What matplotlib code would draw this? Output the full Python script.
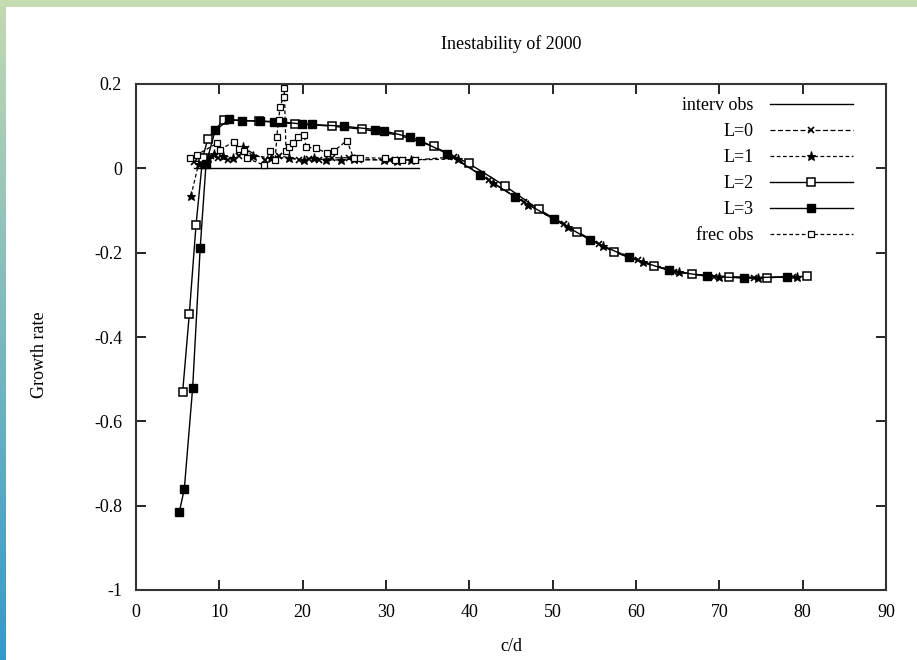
import numpy as np
import matplotlib.pyplot as plt
from matplotlib.colors import LinearSegmentedColormap

plt.rcParams['font.family'] = ['Liberation Serif', 'DejaVu Serif']
plt.rcParams['axes.unicode_minus'] = False

# intervalo observado (linea en y=0)
interv_x = [7.0, 34.0]
interv_y = [0.0, 0.0]

# L=0
l0_x = [7.0, 8.2, 9.0, 9.8, 11.0, 12.3, 13.2, 15.5, 17.2, 19.5, 20.8, 22.0, 23.5,
        25.5, 26.8, 30.5, 32.0, 33.6, 38.1, 42.3, 46.5, 51.3, 55.5, 60.2, 64.6,
        69.3, 74.1, 78.8]
l0_y = [0.015, 0.02, 0.03, 0.025, 0.02, 0.03, 0.045, 0.02, 0.03, 0.02, 0.022, 0.02,
        0.025, 0.025, 0.02, 0.02, 0.02, 0.02, 0.027, -0.028, -0.08, -0.133, -0.18,
        -0.218, -0.245, -0.257, -0.26, -0.258]

# L=1
l1_x = [6.6, 7.5, 8.6, 9.4, 10.4, 11.6, 12.8, 14.0, 16.2, 18.3, 20.2, 21.4, 22.8,
        24.6, 26.2, 29.8, 31.3, 33.0, 38.6, 42.8, 47.0, 51.8, 56.0, 60.8, 65.2,
        70.0, 74.6, 79.3]
l1_y = [-0.065, 0.01, 0.025, 0.035, 0.03, 0.025, 0.05, 0.03, 0.025, 0.025, 0.02,
        0.025, 0.02, 0.02, 0.022, 0.02, 0.018, 0.02, 0.022, -0.034, -0.086, -0.139,
        -0.185, -0.221, -0.247, -0.258, -0.26, -0.257]

# L=2
l2_x = [5.6, 6.4, 7.2, 8.0, 8.6, 10.5, 14.8, 19.1, 23.5, 27.1, 31.5, 35.7, 39.9,
        44.3, 48.3, 52.9, 57.3, 62.1, 66.7, 71.1, 75.7, 80.5]
l2_y = [-0.53, -0.345, -0.135, 0.025, 0.069, 0.115, 0.112, 0.106, 0.1, 0.093,
        0.079, 0.052, 0.012, -0.042, -0.097, -0.15, -0.198, -0.232, -0.251, -0.257,
        -0.259, -0.256]

# L=3
l3_x = [5.2, 5.8, 6.8, 7.7, 8.4, 9.5, 11.2, 12.7, 14.9, 16.6, 17.5, 19.9, 21.1,
        24.9, 28.7, 29.7, 32.9, 34.1, 37.3, 41.3, 45.5, 50.1, 54.5, 59.1, 63.9,
        68.5, 72.9, 78.1]
l3_y = [-0.815, -0.76, -0.52, -0.19, 0.01, 0.09, 0.116, 0.113, 0.112, 0.111, 0.11,
        0.105, 0.104, 0.1, 0.092, 0.089, 0.074, 0.066, 0.035, -0.015, -0.068, -0.12,
        -0.17, -0.211, -0.242, -0.256, -0.26, -0.257]

# frecuencias observadas
frec_x = [6.5, 7.3, 9.7, 10.1, 11.7, 12.3, 12.9, 13.3, 15.3, 16.1, 16.7, 16.9, 17.1,
          17.3, 17.7, 17.8, 18.0, 18.4, 18.8, 19.4, 20.2, 20.4, 21.6, 22.9, 23.7,
          25.3, 26.1, 26.9, 29.9, 31.1, 31.9, 33.5]
frec_y = [0.024, 0.032, 0.059, 0.044, 0.063, 0.047, 0.04, 0.024, 0.008, 0.04, 0.02,
          0.075, 0.115, 0.146, 0.17, 0.19, 0.04, 0.05, 0.06, 0.075, 0.08, 0.05, 0.048,
          0.036, 0.04, 0.066, 0.025, 0.025, 0.024, 0.02, 0.02, 0.02]

fig = plt.figure(figsize=(9.17, 6.6), dpi=100)

# borde verde arriba y degradado a la izquierda
top = fig.add_axes([0, 1 - 7 / 660, 1, 7 / 660])
top.set_facecolor('#c5dbb2')
top.set_xticks([])
top.set_yticks([])
for s in top.spines.values():
    s.set_visible(False)
side = fig.add_axes([0, 0, 6 / 917, 1 - 7 / 660])
cmap = LinearSegmentedColormap.from_list('borde', ['#c2d9b1', '#3399cc'])
side.imshow(np.linspace(0, 1, 256).reshape(-1, 1), aspect='auto', cmap=cmap)
side.axis('off')

ax = fig.add_axes([136 / 917, 1 - 590 / 660, 750 / 917, 506 / 660])

ax.plot(interv_x, interv_y, '-', color='black', lw=1.0, label='interv obs')
ax.plot(l0_x, l0_y, color='black', lw=0.9, dashes=(4, 2), marker='x',
        ms=5, mew=1.2, label='L=0')
ax.plot(l1_x, l1_y, color='black', lw=0.9, dashes=(3, 2), marker='*',
        ms=6.5, mew=0.8, label='L=1')
ax.plot(l2_x, l2_y, '-', color='black', lw=1.0, marker='s', ms=5.5,
        mfc='white', mec='black', mew=1.1, label='L=2')
ax.plot(l3_x, l3_y, '-', color='black', lw=1.0, marker='s', ms=5.5,
        mfc='black', mec='black', label='L=3')
ax.plot(frec_x, frec_y, color='black', lw=0.9, dashes=(3, 2), marker='s',
        ms=3.8, mfc='white', mec='black', mew=0.9, label='frec obs')

ax.set_xlim(0, 90)
ax.set_ylim(-1, 0.2)
ax.set_xticks(np.arange(0, 91, 10))
ax.set_yticks([-1, -0.8, -0.6, -0.4, -0.2, 0, 0.2])
ax.set_yticklabels(['-1', '-0.8', '-0.6', '-0.4', '-0.2', '0', '0.2'])
ax.tick_params(direction='in', length=7, width=1.2, top=True, right=True,
               labelsize=13, pad=10)
for s in ax.spines.values():
    s.set_linewidth(1.5)
    s.set_color('#333333')

ax.set_title('Inestability of 2000', fontsize=13, pad=25)
ax.set_xlabel('c/d', fontsize=13, labelpad=12)
fig.text(40 / 917, 1 - 355 / 660, 'Growth rate', rotation=90, fontsize=13,
         ha='center', va='center')

ax.legend(loc='upper right', bbox_to_anchor=(0.968, 0.992), frameon=False,
          markerfirst=False, numpoints=1, handlelength=4.6, fontsize=13,
          labelspacing=0.5, borderpad=0, handletextpad=0.9)

fig.savefig('out.png', dpi=100)
